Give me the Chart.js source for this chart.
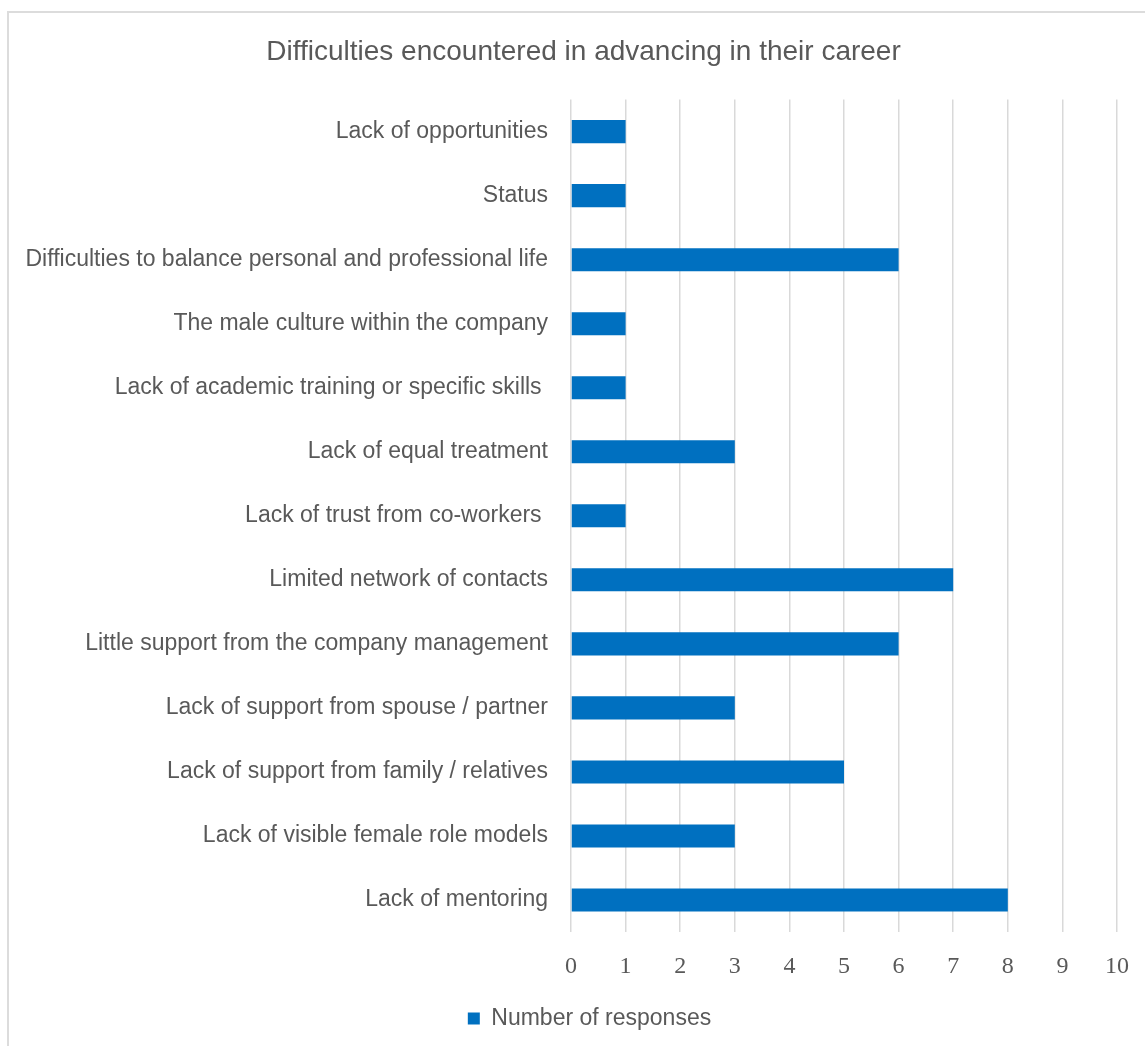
<!DOCTYPE html>
<html lang="en">
<head>
  <meta charset="UTF-8">
  <title>Difficulties encountered in advancing in their career</title>
  <script src="https://cdn.jsdelivr.net/npm/chart.js"></script>
  <style>
    html, body {
      margin: 0;
      padding: 0;
      background: #fff;
      overflow: hidden;
    }
    .frame {
      position: absolute;
      left: 7px;
      top: 11px;
      width: 1200px;
      height: 1100px;
      border: 2px solid #dcdcdc;
    }
    #grafico {
      position: absolute;
      left: 0;
      top: 0;
    }
  </style>
</head>
<body>

<div class="frame"></div>
<canvas id="grafico" width="1145" height="1046"></canvas>

<script>
  const categorias = [
    "Lack of opportunities",
    "Status",
    "Difficulties to balance personal and professional life",
    "The male culture within the company",
    "Lack of academic training or specific skills ",
    "Lack of equal treatment",
    "Lack of trust from co-workers ",
    "Limited network of contacts",
    "Little support from the company management",
    "Lack of support from spouse / partner",
    "Lack of support from family / relatives",
    "Lack of visible female role models",
    "Lack of mentoring"
  ];
  const respostas = [1, 1, 6, 1, 1, 3, 1, 7, 6, 3, 5, 3, 8];
  const ticksX = [0, 1, 2, 3, 4, 5, 6, 7, 8, 9, 10];

  const cinza = "#595959";
  const sans = "'Liberation Sans', Arial, sans-serif";

  // o eixo Y ocupa toda a margem esquerda (os rótulos longos não podem ser cortados),
  // então título e legenda são deslocados para ficarem centrados na moldura
  const centralizarTextos = {
    id: "centralizarTextos",
    afterLayout(chart) {
      const t = chart.titleBlock;
      if (t) { t.left += 25; t.right += 25; }
      const l = chart.legend;
      if (l) { l.left += 31; l.right += 31; }
    }
  };

  const ctx = document.getElementById("grafico").getContext("2d");

  new Chart(ctx, {
    type: "bar",
    data: {
      labels: categorias,
      datasets: [{
        label: "Number of responses",
        data: respostas,
        backgroundColor: "#0070C0",
        borderWidth: 0,
        categoryPercentage: 1,
        barPercentage: 0.36
      }]
    },
    options: {
      indexAxis: "y",
      responsive: false,
      animation: false,
      layout: {
        padding: { left: 0, right: 28, top: 0, bottom: 6 }
      },
      plugins: {
        title: {
          display: true,
          text: "Difficulties encountered in advancing in their career",
          color: cinza,
          font: { family: sans, size: 28, weight: "normal" },
          padding: { top: 35, bottom: 31 }
        },
        legend: {
          position: "bottom",
          labels: {
            color: cinza,
            boxWidth: 12,
            boxHeight: 12,
            font: { family: sans, size: 23 }
          }
        },
        tooltip: { enabled: false }
      },
      scales: {
        x: {
          min: 0,
          max: 10,
          afterBuildTicks: (scale) => {
            scale.ticks = ticksX.map(v => ({ value: v }));
          },
          afterFit: (scale) => {
            scale.height = 65;
            // a margem direita fica por conta do layout
            scale.paddingLeft = 0;
            scale.paddingRight = 0;
          },
          grid: {
            color: "#d9d9d9",
            lineWidth: 1.5,
            drawTicks: false
          },
          border: { display: false },
          ticks: {
            padding: 20,
            color: cinza,
            font: { family: "'Liberation Serif', 'Times New Roman', serif", size: 24 }
          }
        },
        y: {
          afterFit: (scale) => { scale.width = 571; },
          grid: { display: false, drawTicks: false },
          border: { display: false },
          ticks: {
            padding: 23,
            color: cinza,
            autoSkip: false,
            font: { family: sans, size: 23 }
          }
        }
      }
    },
    plugins: [centralizarTextos]
  });
</script>

</body>
</html>
